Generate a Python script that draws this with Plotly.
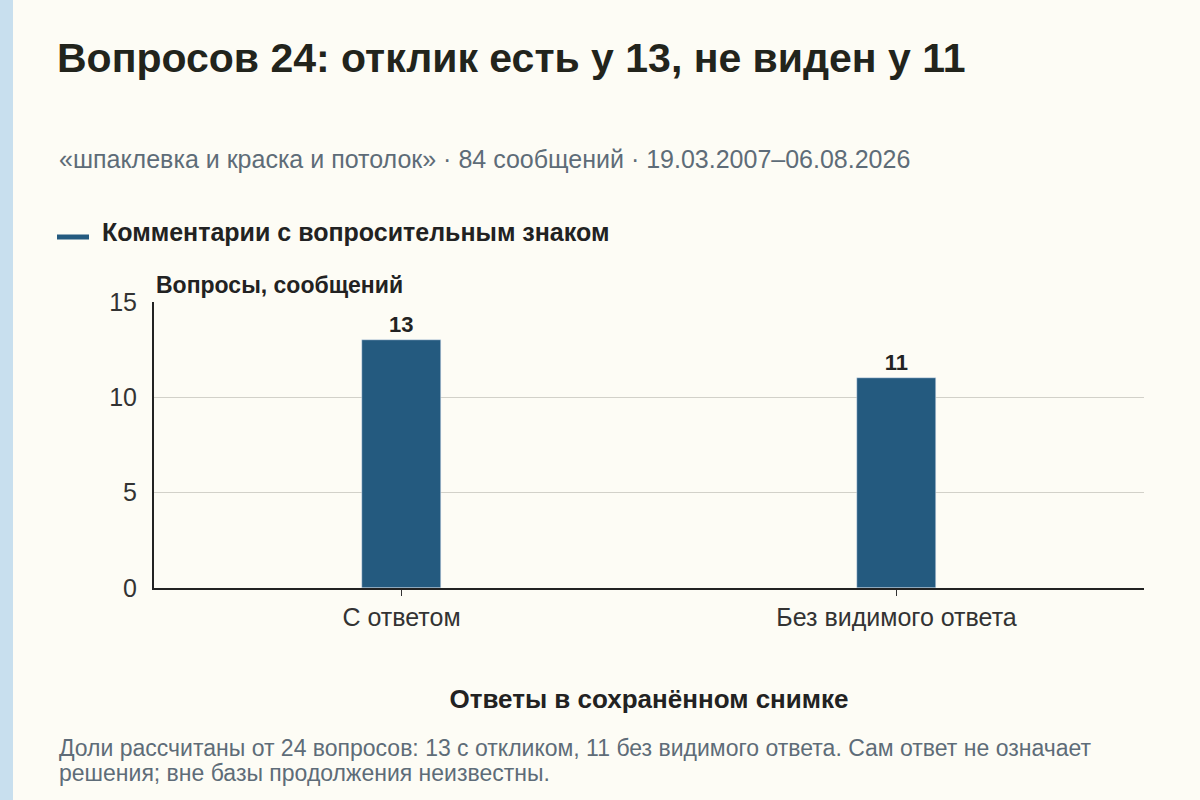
import plotly.graph_objects as go

categories = ["С ответом", "Без видимого ответа"]
values = [13, 11]
y_ticks = [0, 5, 10, 15]

title_text = "Вопросов 24: отклик есть у 13, не виден у 11"
subtitle_text = "«шпаклевка и краска и потолок» · 84 сообщений · 19.03.2007–06.08.2026"
series_name = "Комментарии с вопросительным знаком"
note_lines = ["Доли рассчитаны от 24 вопросов: 13 с откликом, 11 без видимого ответа. Сам ответ не означает",
              "решения; вне базы продолжения неизвестны."]

W, H = 1200, 800
L, R, T, B = 154, 56, 302, 212
bar_color = "#245a7f"
font = "Liberation Sans, Arial, sans-serif"


# pixel -> paper coordinates
def px(x):
    return (x - L) / (W - L - R)


def py(y):
    return (H - B - y) / (H - T - B)


fig = go.Figure()
fig.add_trace(go.Bar(x=categories, y=values, width=0.16, marker_color=bar_color,
                     text=values, textposition="outside", cliponaxis=False,
                     textfont=dict(size=22, color="#222", family=font, weight="bold"),
                     showlegend=False))

fig.update_layout(
    width=W, height=H,
    margin=dict(l=L, r=R, t=T, b=B),
    paper_bgcolor="#fdfcf5", plot_bgcolor="#fdfcf5",
    font=dict(family=font, color="#333"),
    bargap=0,
    title=dict(text=title_text, xref="container", yref="container", x=57 / W, y=1 - 58 / H,
               xanchor="left", yanchor="middle",
               font=dict(size=41, color="#22241c", family=font, weight="bold")),
)
fig.update_xaxes(showline=True, linecolor="#222", linewidth=2, ticks="outside", ticklen=6,
                 tickcolor="#333", tickfont=dict(size=25, color="#333"),
                 title=dict(text="<b>Ответы в сохранённом снимке</b>", font=dict(size=26, color="#222"),
                            standoff=60))
fig.update_yaxes(range=[0, 15], tickvals=y_ticks, showline=True, linecolor="#222", linewidth=2,
                 gridcolor="#d2d1c9", gridwidth=1, zeroline=False, ticks="",
                 tickfont=dict(size=25, color="#333"), ticklabelstandoff=10)

# left accent strip
fig.add_shape(type="rect", xref="paper", yref="paper", x0=px(0), x1=px(13), y0=py(800), y1=py(0),
              fillcolor="#c8dfee", line_width=0, layer="below")
# legend swatch
fig.add_shape(type="line", xref="paper", yref="paper", x0=px(57), x1=px(89), y0=py(237), y1=py(237),
              line=dict(color=bar_color, width=5))

fig.add_annotation(text=subtitle_text, xref="paper", yref="paper", x=px(57), y=py(159),
                   xanchor="left", yanchor="middle", showarrow=False,
                   font=dict(size=25, color="#5e6c78"))
fig.add_annotation(text="<b>" + series_name + "</b>", xref="paper", yref="paper", x=px(100), y=py(232),
                   xanchor="left", yanchor="middle", showarrow=False,
                   font=dict(size=25, color="#222"))
fig.add_annotation(text="<b>Вопросы, сообщений</b>", xref="paper", yref="paper", x=px(154), y=py(285),
                   xanchor="left", yanchor="middle", showarrow=False,
                   font=dict(size=23, color="#222"))
for line, yy in zip(note_lines, [748, 773]):
    fig.add_annotation(text=line, xref="paper", yref="paper", x=px(57), y=py(yy),
                       xanchor="left", yanchor="middle", align="left", showarrow=False,
                       font=dict(size=23, color="#5e6c78"))

fig.write_html("out.html", config={"displayModeBar": False},
               post_script="document.body.style.margin='0';")
